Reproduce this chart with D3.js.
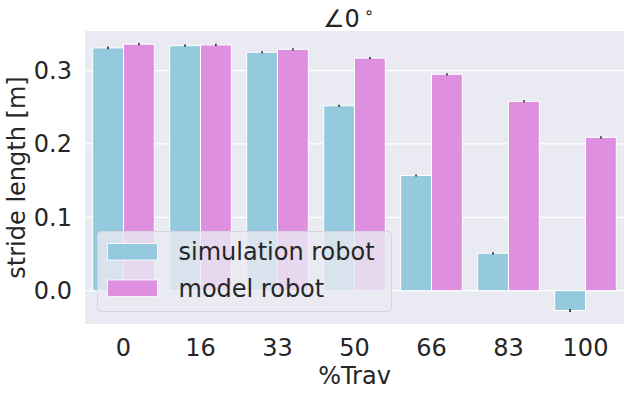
<!DOCTYPE html>
<html>
<head>
<meta charset="utf-8">
<script src="https://cdn.jsdelivr.net/npm/d3@7"></script>
<style>
  body { margin: 0; background: #fff; }
  text { font-family: "DejaVu Sans", sans-serif; fill: #262626; }
</style>
</head>
<body>
<div id="chart"></div>
<script>
// categories and series
const travLabels = ["0", "16", "33", "50", "66", "83", "100"];
const seriesNames = ["simulation robot", "model robot"];
const simValues = [0.331, 0.334, 0.325, 0.252, 0.157, 0.051, -0.027];
const modelValues = [0.336, 0.335, 0.329, 0.317, 0.295, 0.258, 0.209];
const simErr = [0.002, 0.0015, 0.0015, 0.0015, 0.0015, 0.0015, 0.002];
const modelErr = [0.0015, 0.0015, 0.0015, 0.0015, 0.0015, 0.0015, 0.0015];
const yTicks = [0.0, 0.1, 0.2, 0.3];

const colors = ["#95c9dd", "#df8fdf"];

const dims = { width: 629, height: 394, left: 85, right: 5, top: 31, bottom: 70 };
const fs = 24;

const svg = d3.select("#chart").append("svg")
    .attr("width", dims.width)
    .attr("height", dims.height);

const x = d3.scaleBand()
    .domain(travLabels)
    .range([dims.left, dims.width - dims.right])
    .paddingInner(0)
    .paddingOuter(0);

const xSub = d3.scaleBand()
    .domain(seriesNames)
    .range([x.bandwidth() * 0.1, x.bandwidth() * 0.9]);

const y = d3.scaleLinear()
    .domain([-0.0454, 0.354])
    .range([dims.height - dims.bottom, dims.top]);

// background
svg.append("rect")
    .attr("x", dims.left).attr("y", dims.top)
    .attr("width", x.range()[1] - dims.left)
    .attr("height", y.range()[0] - dims.top)
    .attr("fill", "#eaeaf2");

// grid
svg.append("g").selectAll("line")
    .data(yTicks)
    .join("line")
    .attr("x1", dims.left).attr("x2", x.range()[1])
    .attr("y1", d => y(d)).attr("y2", d => y(d))
    .attr("stroke", "#fff").attr("stroke-width", 1.2);

const rows = travLabels.map((t, i) => ({
    trav: t,
    vals: [
        { s: seriesNames[0], v: simValues[i], e: simErr[i], c: colors[0] },
        { s: seriesNames[1], v: modelValues[i], e: modelErr[i], c: colors[1] }
    ]
}));

const groups = svg.append("g").selectAll("g")
    .data(rows)
    .join("g")
    .attr("transform", d => `translate(${x(d.trav)},0)`);

groups.selectAll("rect")
    .data(d => d.vals)
    .join("rect")
    .attr("x", d => xSub(d.s))
    .attr("width", xSub.bandwidth())
    .attr("y", d => y(Math.max(0, d.v)))
    .attr("height", d => Math.abs(y(d.v) - y(0)))
    .attr("fill", d => d.c)
    .attr("stroke", "#fff")
    .attr("stroke-width", 1);

groups.selectAll("line")
    .data(d => d.vals)
    .join("line")
    .attr("x1", d => xSub(d.s) + xSub.bandwidth() / 2)
    .attr("x2", d => xSub(d.s) + xSub.bandwidth() / 2)
    .attr("y1", d => y(d.v - d.e))
    .attr("y2", d => y(d.v + d.e))
    .attr("stroke", "#3f3f3f")
    .attr("stroke-width", 1.8);

// x axis
const xAxis = svg.append("g")
    .attr("transform", `translate(0,${y.range()[0]})`)
    .call(d3.axisBottom(x).tickSize(0).tickPadding(15));
xAxis.select(".domain").remove();
xAxis.selectAll("text").attr("font-size", fs).attr("fill", "#262626");

// y axis
const yAxis = svg.append("g")
    .attr("transform", `translate(${dims.left},0)`)
    .call(d3.axisLeft(y).tickValues(yTicks).tickFormat(d3.format(".1f")).tickSize(0).tickPadding(13));
yAxis.select(".domain").remove();
yAxis.selectAll("text").attr("font-size", fs).attr("fill", "#262626");

// axis labels
svg.append("text")
    .attr("x", (dims.left + x.range()[1]) / 2)
    .attr("y", 384)
    .attr("text-anchor", "middle")
    .attr("font-size", fs)
    .text("%Trav");

svg.append("text")
    .attr("transform", `translate(25,${(dims.top + y.range()[0]) / 2}) rotate(-90)`)
    .attr("text-anchor", "middle")
    .attr("font-size", fs)
    .text("stride length [m]");

// title
const title = svg.append("text")
    .attr("x", 323)
    .attr("y", 27)
    .attr("font-size", fs);
title.append("tspan").text("∠0");
title.append("tspan").attr("font-size", 16).attr("dy", -9).attr("dx", 4).text("∘");

// legend
const legend = svg.append("g").attr("transform", "translate(97.5,231.5)");
legend.append("rect")
    .attr("width", 294).attr("height", 80)
    .attr("rx", 4)
    .attr("fill", "#eaeaf2").attr("fill-opacity", 0.8)
    .attr("stroke", "#d5d5dd").attr("stroke-width", 1);

const items = legend.selectAll("g.item")
    .data(seriesNames)
    .join("g")
    .attr("class", "item")
    .attr("transform", (d, i) => `translate(10,${12 + i * 36.5})`);
items.append("rect")
    .attr("width", 50).attr("height", 16.5)
    .attr("fill", (d, i) => colors[i])
    .attr("stroke", "#fff").attr("stroke-width", 0.8);
items.append("text")
    .attr("x", 71).attr("y", 16.5)
    .attr("font-size", fs)
    .text(d => d);
</script>
</body>
</html>
